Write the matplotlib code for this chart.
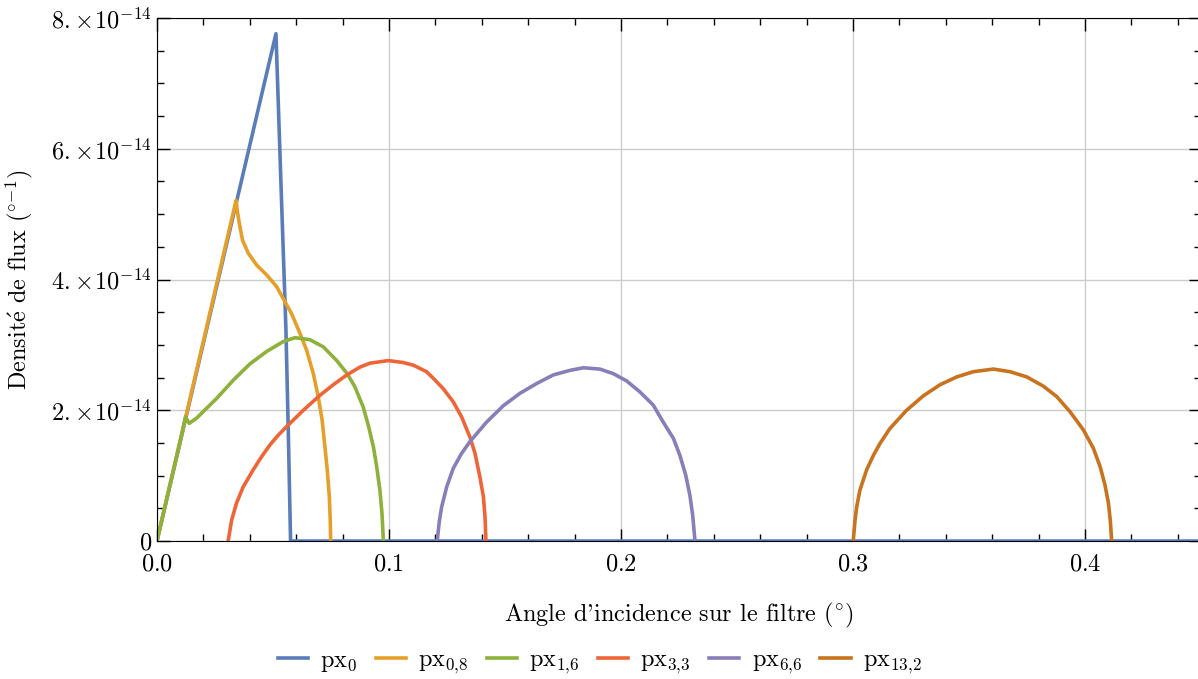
import matplotlib
matplotlib.use("Agg")
import matplotlib.pyplot as plt
from matplotlib.ticker import MultipleLocator, FuncFormatter

plt.rcParams['font.family'] = ['cmr10', 'DejaVu Serif']
plt.rcParams['mathtext.fontset'] = 'cm'
plt.rcParams['axes.unicode_minus'] = False
plt.rcParams['font.size'] = 17.5

# angles (deg) and flux density (units of 1e-14 deg^-1)
x_px0 = [0.0, 0.0513, 0.0537, 0.0556, 0.0566, 0.0576, 0.45]
y_px0 = [0.0, 7.76, 5.21, 3.23, 1.70, 0.0, 0.0]

x_px08 = [0.0, 0.0341, 0.0346, 0.0355, 0.0369, 0.0394, 0.0430, 0.0473,
          0.0516, 0.0544, 0.0580, 0.0616, 0.0645, 0.0674, 0.0695, 0.0712,
          0.0724, 0.0734, 0.0743, 0.0747, 0.0749]
y_px08 = [0.0, 5.21, 5.06, 4.86, 4.60, 4.40, 4.22, 4.07,
          3.89, 3.71, 3.48, 3.18, 2.92, 2.56, 2.21, 1.85,
          1.44, 1.09, 0.68, 0.32, 0.0]

x_px16 = [0.0, 0.0106, 0.0123, 0.0139, 0.0171, 0.0214, 0.0257, 0.0329,
          0.0401, 0.0473, 0.0544, 0.0595, 0.0659, 0.0717, 0.0775, 0.0820,
          0.0853, 0.0889, 0.0911, 0.0933, 0.0947, 0.0961, 0.0970, 0.0976]
y_px16 = [0.0, 1.62, 1.90, 1.80, 1.88, 2.03, 2.18, 2.46,
          2.71, 2.90, 3.05, 3.11, 3.08, 2.97, 2.76, 2.56,
          2.36, 2.05, 1.77, 1.44, 1.14, 0.78, 0.42, 0.0]

x_px33 = [0.0307, 0.0322, 0.0343, 0.0372, 0.0415, 0.0451, 0.0487, 0.0523,
          0.0559, 0.0631, 0.0703, 0.0760, 0.0818, 0.0875, 0.0918, 0.0997,
          0.1062, 0.1105, 0.1162, 0.1191, 0.1234, 0.1277, 0.1313, 0.1349,
          0.1371, 0.1392, 0.1407, 0.1414, 0.1418]
y_px33 = [0.0, 0.32, 0.58, 0.83, 1.09, 1.29, 1.47, 1.62,
          1.75, 2.00, 2.23, 2.39, 2.54, 2.66, 2.72, 2.76,
          2.73, 2.69, 2.59, 2.49, 2.33, 2.13, 1.90, 1.59,
          1.34, 0.98, 0.68, 0.37, 0.0]

x_px66 = [0.1208, 0.1217, 0.1227, 0.1249, 0.1277, 0.1313, 0.1349, 0.1421,
          0.1493, 0.1565, 0.1637, 0.1708, 0.1780, 0.1838, 0.1909, 0.1967,
          0.2024, 0.2082, 0.2139, 0.2182, 0.2226, 0.2254, 0.2279, 0.2297,
          0.2309, 0.2319]
y_px66 = [0.0, 0.30, 0.52, 0.83, 1.11, 1.34, 1.52, 1.82,
          2.07, 2.26, 2.41, 2.54, 2.61, 2.65, 2.63, 2.56,
          2.45, 2.28, 2.08, 1.82, 1.57, 1.31, 1.01, 0.70,
          0.40, 0.0]

x_px132 = [0.3001, 0.3009, 0.3016, 0.3030, 0.3059, 0.3088, 0.3116, 0.3159,
           0.3231, 0.3303, 0.3375, 0.3447, 0.3519, 0.3605, 0.3677, 0.3749,
           0.3820, 0.3878, 0.3935, 0.3993, 0.4036, 0.4065, 0.4086, 0.4101,
           0.4109, 0.4115]
y_px132 = [0.0, 0.32, 0.52, 0.78, 1.09, 1.31, 1.49, 1.72,
           2.00, 2.22, 2.39, 2.51, 2.59, 2.63, 2.59, 2.51,
           2.37, 2.21, 1.98, 1.70, 1.42, 1.14, 0.86, 0.58,
           0.32, 0.0]

series = [
    (x_px0, y_px0, r'$\mathrm{px}_{0}$', '#5A7DB9'),
    (x_px08, y_px08, r'$\mathrm{px}_{0{,}8}$', '#E5A02A'),
    (x_px16, y_px16, r'$\mathrm{px}_{1{,}6}$', '#8DB13A'),
    (x_px33, y_px33, r'$\mathrm{px}_{3{,}3}$', '#EE6538'),
    (x_px66, y_px66, r'$\mathrm{px}_{6{,}6}$', '#8A7EB9'),
    (x_px132, y_px132, r'$\mathrm{px}_{13{,}2}$', '#C9731F'),
]

fig = plt.figure(figsize=(11.98, 6.79), dpi=100)
ax = fig.add_axes([0.131, 0.2032, 0.8715, 0.7703])

for xs, ys, lab, col in series:
    ax.plot(xs, [v * 1e-14 for v in ys], color=col, lw=2.6, label=lab,
            solid_joinstyle='round')

ax.set_xlim(0, 0.45)
ax.set_ylim(0, 8e-14)
ax.xaxis.set_major_locator(MultipleLocator(0.1))
ax.xaxis.set_minor_locator(MultipleLocator(0.02))
ax.yaxis.set_major_locator(MultipleLocator(2e-14))
ax.yaxis.set_minor_locator(MultipleLocator(0.5e-14))
ax.xaxis.set_major_formatter(FuncFormatter(lambda v, p: '$%.1f$' % v))


def yfmt(v, p):
    if abs(v) < 1e-20:
        return '$0$'
    return r'$%d.\!\times\!10^{-14}$' % round(v / 1e-14)


ax.yaxis.set_major_formatter(FuncFormatter(yfmt))
ax.tick_params(which='both', direction='in', top=True, right=True, labelsize=17.5)
ax.tick_params(which='major', length=9, width=1)
ax.tick_params(which='minor', length=5, width=1)
ax.tick_params(axis='x', pad=9)
ax.grid(True, which='major', color='#cccccc', lw=1)
ax.set_axisbelow(True)

ax.set_xlabel(r"Angle d'incidence sur le filtre (${}^{\circ}$)", labelpad=18)
ax.set_ylabel(r"Densit$\mathrm{\acute{e}}$ de flux (${}^{\circ\!-\!1}$)", labelpad=12)

ax.legend(loc='center', bbox_to_anchor=(0.424, -0.233), ncol=6,
          frameon=False, fontsize=17.5, handlelength=1.25, columnspacing=0.75,
          handletextpad=0.5)

fig.savefig('out.png', dpi=100)
